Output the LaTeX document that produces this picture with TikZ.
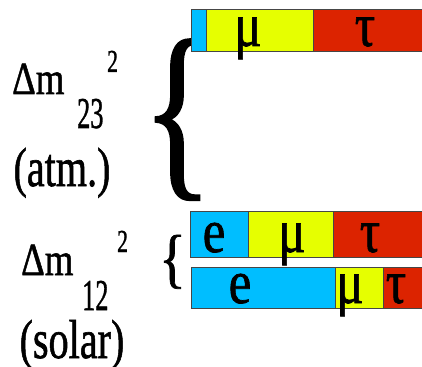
\documentclass[tikz,border=0pt]{standalone}
\usepackage{fontspec}
\setmainfont{Liberation Serif}[FakeBold=1.2]
\usetikzlibrary{positioning}
\definecolor{NuBlue}{RGB}{0,190,255}
\definecolor{NuYellow}{RGB}{230,255,0}
\definecolor{NuRed}{RGB}{220,35,0}
\definecolor{Edge}{RGB}{70,70,70}
\tikzset{
  seg/.style={rectangle,draw=Edge,line width=0.8pt,inner sep=0pt,outer sep=0pt},
  eseg/.style={seg,fill=NuBlue},
  museg/.style={seg,fill=NuYellow},
  tauseg/.style={seg,fill=NuRed},
  flav/.style={font=\fontsize{62}{62}\selectfont,xscale=.82,anchor=base,inner sep=0pt},
  mass/.style={font=\fontsize{46}{46}\selectfont,xscale=.8,anchor=base west,inner sep=0pt},
  msub/.style={font=\fontsize{44}{44}\selectfont,xscale=.6,anchor=base west,inner sep=0pt},
  msup/.style={font=\fontsize{32}{32}\selectfont,xscale=.68,anchor=base west,inner sep=0pt},
  note/.style={font=\fontsize{55}{55}\selectfont,xscale=.73,anchor=base,inner sep=0pt},
}
\begin{document}
\begin{tikzpicture}[x=1pt,y=-1pt]
  \useasboundingbox (0,0) rectangle (422,366);
  % atmospheric splitting
  \node[mass] (dm23) at (12,94) {Δm};
  \node[msub] (s23) at (77,128) {23};
  \node[msup] (p23) at (107,72) {2};
  \node[note] (atm) at (62,186) {(atm.)};
  \node[font=\fontsize{194}{194}\selectfont,xscale=.76,anchor=base west,inner sep=0pt] (br23) at (142,174) {\{};
  % bar 3
  \node[eseg,minimum width=15pt,minimum height=42pt,anchor=north west] (b3e) at (191,9) {};
  \node[museg,minimum width=107pt,minimum height=42pt,right=0pt of b3e] (b3m) {};
  \node[tauseg,minimum width=117pt,minimum height=42pt,right=0pt of b3m] (b3t) {};
  \node[flav] (l3m) at (248,46) {μ};
  \node[flav] (l3t) at (365,46) {τ};
  % solar splitting
  \node[mass] (dm12) at (21,275) {Δm};
  \node[msub] (s12) at (82,310) {12};
  \node[msup] (p12) at (117,252) {2};
  \node[note] (sol) at (72,358) {(solar)};
  \node[font=\fontsize{65}{65}\selectfont,xscale=.85,anchor=base west,inner sep=0pt] (br12) at (159,280) {\{};
  % bar 2
  \node[eseg,minimum width=58pt,minimum height=46pt,anchor=north west] (b2e) at (190,211) {};
  \node[museg,minimum width=85pt,minimum height=46pt,right=0pt of b2e] (b2m) {};
  \node[tauseg,minimum width=97pt,minimum height=46pt,right=0pt of b2m] (b2t) {};
  \node[flav] (l2e) at (214,252) {e};
  \node[flav] (l2m) at (292,252) {μ};
  \node[flav] (l2t) at (370,252) {τ};
  % bar 1
  \node[eseg,minimum width=144pt,minimum height=41pt,anchor=north west] (b1e) at (191,267) {};
  \node[museg,minimum width=48pt,minimum height=41pt,right=0pt of b1e] (b1m) {};
  \node[tauseg,minimum width=47pt,minimum height=41pt,right=0pt of b1m] (b1t) {};
  \node[flav] (l1e) at (240,303) {e};
  \node[flav] (l1m) at (350,303) {μ};
  \node[flav] (l1t) at (396,303) {τ};
\end{tikzpicture}
\end{document}
